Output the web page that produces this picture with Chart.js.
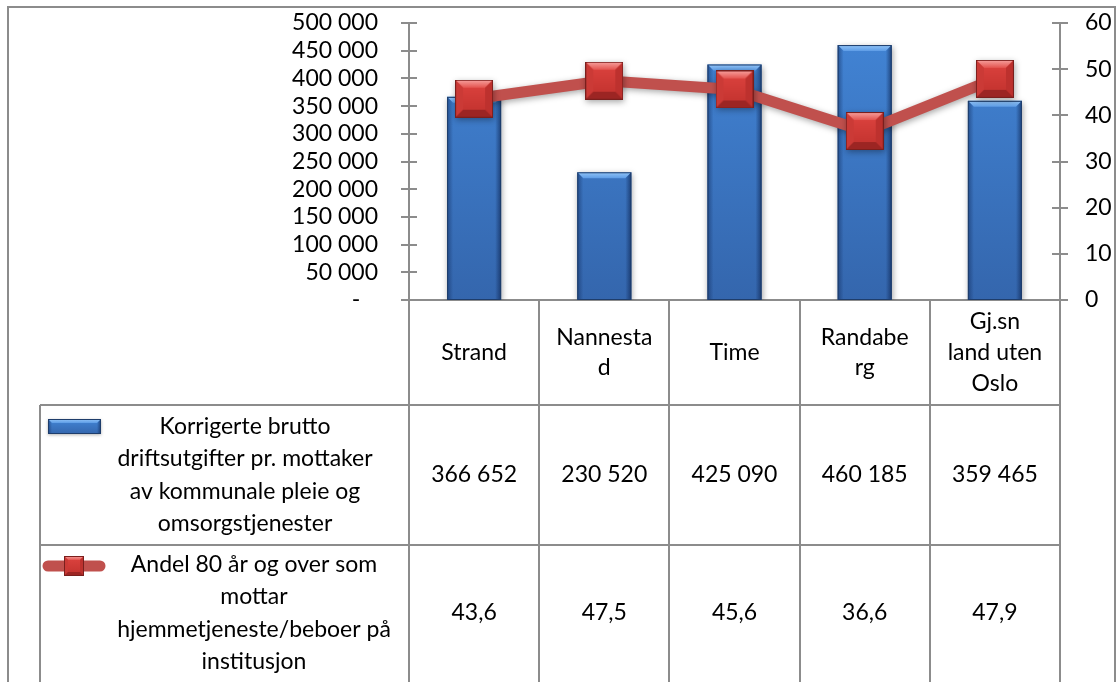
<!DOCTYPE html>
<html>
<head>
<meta charset="utf-8">
<script src="https://cdn.jsdelivr.net/npm/chart.js@4.4.1/dist/chart.umd.min.js"></script>
<style>
html,body{margin:0;padding:0;background:#fff;overflow:hidden}
#wrap{width:1117px;height:682px;position:relative}
</style>
</head>
<body>
<div id="wrap"><canvas id="c" width="1117" height="682"></canvas></div>
<script>
// ---------------- DATA ----------------
const categories = [['Strand'], ['Nannesta', 'd'], ['Time'], ['Randabe', 'rg'], ['Gj.sn', 'land uten', 'Oslo']];
const costLabelLines = ['Korrigerte brutto', 'driftsutgifter pr. mottaker', 'av kommunale pleie og', 'omsorgstjenester'];
const shareLabelLines = ['Andel 80 år og over som', 'mottar', 'hjemmetjeneste/beboer på', 'institusjon'];
const costValues = [366652, 230520, 425090, 460185, 359465];
const shareValues = [43.6, 47.5, 45.6, 36.6, 47.9];
const costAxis = { min: 0, max: 500000, step: 50000 };
const shareAxis = { min: 0, max: 60, step: 10 };

// ---------------- STYLE ----------------
const FONT = 'Lato';
const FS = 23;
const AXIS = '#8C8C8C';
const LINE_RED = '#C0504D';

function fmtThousands(v) { return String(Math.round(v)).replace(/\B(?=(\d{3})+(?!\d))/g, ' '); }
function fmtDecimal(v) { return v.toFixed(1).replace('.', ','); }

function poly(g, pts, fill) {
  g.beginPath();
  g.moveTo(pts[0][0], pts[0][1]);
  for (let i = 1; i < pts.length; i++) g.lineTo(pts[i][0], pts[i][1]);
  g.closePath();
  g.fillStyle = fill;
  g.fill();
}

function makeMarker(size) {
  const c = document.createElement('canvas');
  c.width = size; c.height = size;
  const g = c.getContext('2d');
  const s = size, d = Math.round(size * 0.2);
  let gr = g.createLinearGradient(0, 0, 0, s);
  gr.addColorStop(0, '#DA433E'); gr.addColorStop(1, '#B92E2B');
  g.fillStyle = gr; g.fillRect(0, 0, s, s);
  let tg = g.createLinearGradient(0, 0, 0, d);
  tg.addColorStop(0, '#F7A3A0'); tg.addColorStop(1, '#E4544F');
  poly(g, [[0, 0], [s, 0], [s - d, d], [d, d]], tg);
  poly(g, [[0, 0], [d, d], [d, s - d], [0, s]], '#CB3A36');
  poly(g, [[s, 0], [s, s], [s - d, s - d], [s - d, d]], '#BD312E');
  poly(g, [[0, s], [d, s - d], [s - d, s - d], [s, s]], '#9C2523');
  let cg = g.createLinearGradient(0, d, 0, s - d);
  cg.addColorStop(0, '#D8403C'); cg.addColorStop(1, '#C63531');
  g.fillStyle = cg; g.fillRect(d, d, s - 2 * d, s - 2 * d);
  g.strokeStyle = '#7A1F1D'; g.lineWidth = 1;
  g.strokeRect(0.5, 0.5, s - 1, s - 1);
  return c;
}

function drawBarBevel(ctx, l, t, r, b, d) {
  ctx.save();
  let tg = ctx.createLinearGradient(0, t, 0, t + d);
  tg.addColorStop(0, '#93C5F7'); tg.addColorStop(1, '#5D9CE6');
  poly(ctx, [[l, t], [r, t], [r - d, t + d], [l + d, t + d]], tg);
  let lg = ctx.createLinearGradient(l, 0, l + d, 0);
  lg.addColorStop(0, 'rgba(18,45,95,0.55)'); lg.addColorStop(1, 'rgba(18,45,95,0)');
  poly(ctx, [[l, t], [l + d, t + d], [l + d, b], [l, b]], lg);
  let rg = ctx.createLinearGradient(r - d, 0, r, 0);
  rg.addColorStop(0, 'rgba(12,35,80,0)'); rg.addColorStop(1, 'rgba(12,35,80,0.65)');
  poly(ctx, [[r, t], [r, b], [r - d, b], [r - d, t + d]], rg);
  ctx.strokeStyle = '#1E3D6B'; ctx.lineWidth = 1;
  ctx.strokeRect(l + 0.5, t + 0.5, r - l - 1, b - t - 1);
  ctx.restore();
}

function barFill(ctx, top, bottom) {
  const g = ctx.createLinearGradient(0, top, 0, bottom);
  g.addColorStop(0, '#4285D6'); g.addColorStop(1, '#3466AD');
  return g;
}

const markerImg = makeMarker(38);
const legendMarkerImg = makeMarker(20);

const effectsPlugin = {
  id: 'effects',
  beforeDatasetDraw(chart, args) {
    const ctx = chart.ctx;
    ctx.save();
    ctx.shadowColor = 'rgba(0,0,0,0.35)';
    ctx.shadowBlur = 6;
    ctx.shadowOffsetX = 1;
    ctx.shadowOffsetY = 2;
  },
  afterDatasetDraw(chart, args) {
    const ctx = chart.ctx;
    ctx.restore();
    if (args.meta.type === 'bar') {
      args.meta.data.forEach(el => {
        const p = el.getProps(['x', 'y', 'width', 'base'], true);
        drawBarBevel(ctx, p.x - p.width / 2, p.y, p.x + p.width / 2, p.base, 6);
      });
    }
  }
};

const tablePlugin = {
  id: 'table',
  beforeDraw(chart) {
    const ctx = chart.ctx;
    ctx.save();
    ctx.fillStyle = '#fff';
    ctx.fillRect(0, 0, chart.width, chart.height);
    ctx.strokeStyle = AXIS; ctx.lineWidth = 2;
    ctx.strokeRect(8, 7, 1107, 720);
    ctx.restore();
  },
  afterDraw(chart) {
    const ctx = chart.ctx, xs = chart.scales.x, ca = chart.chartArea;
    const step = xs.getPixelForValue(1) - xs.getPixelForValue(0);
    const headerBottom = 405, row1Bottom = 545, row2Bottom = 685, legendLeft = 40;
    ctx.save();
    // crossing tick marks on both value axes
    ctx.strokeStyle = AXIS; ctx.lineWidth = 2;
    chart.scales.y.ticks.forEach(t => {
      const py = Math.round(chart.scales.y.getPixelForValue(t.value));
      ctx.beginPath(); ctx.moveTo(ca.left - 8, py); ctx.lineTo(ca.left + 8, py); ctx.stroke();
    });
    chart.scales.y1.ticks.forEach(t => {
      const py = Math.round(chart.scales.y1.getPixelForValue(t.value));
      ctx.beginPath(); ctx.moveTo(ca.right - 8, py); ctx.lineTo(ca.right + 8, py); ctx.stroke();
    });
    // table grid
    for (let i = 0; i <= categories.length; i++) {
      const px = Math.round(xs.getPixelForValue(0) - step / 2 + i * step);
      ctx.beginPath(); ctx.moveTo(px, ca.bottom); ctx.lineTo(px, 700); ctx.stroke();
    }
    [headerBottom, row1Bottom].forEach(yy => {
      ctx.beginPath(); ctx.moveTo(legendLeft, yy); ctx.lineTo(ca.right, yy); ctx.stroke();
    });
    ctx.beginPath(); ctx.moveTo(legendLeft, headerBottom); ctx.lineTo(legendLeft, 700); ctx.stroke();

    // cell texts
    ctx.fillStyle = '#000';
    ctx.font = FS + 'px ' + FONT;
    ctx.textAlign = 'center';
    ctx.textBaseline = 'middle';
    const r1c = (headerBottom + row1Bottom) / 2;
    const r2c = (row1Bottom + row2Bottom) / 2 - 2;
    costValues.forEach((v, i) => ctx.fillText(fmtThousands(v), xs.getPixelForValue(i), r1c));
    shareValues.forEach((v, i) => ctx.fillText(fmtDecimal(v), xs.getPixelForValue(i), r2c));

    const lh = 32.5;
    costLabelLines.forEach((s, i) => ctx.fillText(s, 245, r1c + (i - (costLabelLines.length - 1) / 2) * lh));
    shareLabelLines.forEach((s, i) => ctx.fillText(s, 254, r2c + (i - (shareLabelLines.length - 1) / 2) * lh));

    // legend keys
    ctx.save();
    ctx.shadowColor = 'rgba(0,0,0,0.3)'; ctx.shadowBlur = 3; ctx.shadowOffsetY = 1;
    ctx.fillStyle = barFill(ctx, 419, 434);
    ctx.fillRect(48, 419, 53, 15);
    ctx.restore();
    drawBarBevel(ctx, 48, 419, 101, 434, 4);

    ctx.strokeStyle = LINE_RED; ctx.lineWidth = 11; ctx.lineCap = 'round';
    ctx.beginPath(); ctx.moveTo(48, 566); ctx.lineTo(100, 566); ctx.stroke();
    ctx.drawImage(legendMarkerImg, 64, 556);
    ctx.restore();
  }
};

function build() {
  new Chart(document.getElementById('c'), {
    data: {
      labels: categories,
      datasets: [
        {
          type: 'line',
          label: shareLabelLines.join(' '),
          data: shareValues,
          yAxisID: 'y1',
          order: 0,
          borderColor: LINE_RED,
          borderWidth: 11,
          borderJoinStyle: 'round',
          tension: 0,
          fill: false,
          pointStyle: markerImg,
          pointRadius: 19,
          pointHoverRadius: 19,
          pointBorderWidth: 0,
          pointHoverBorderWidth: 0
        },
        {
          type: 'bar',
          label: costLabelLines.join(' '),
          data: costValues,
          yAxisID: 'y',
          order: 1,
          backgroundColor: c => {
            const ca = c.chart.chartArea;
            if (!ca) return '#3D7BCA';
            return barFill(c.chart.ctx, ca.top, ca.bottom);
          },
          borderWidth: 0,
          categoryPercentage: 1,
          barPercentage: 0.415
        }
      ]
    },
    options: {
      responsive: false,
      animation: false,
      devicePixelRatio: 1,
      layout: { autoPadding: false, padding: { top: 23, left: 0, right: 0, bottom: 0 } },
      plugins: { legend: { display: false }, tooltip: { enabled: false } },
      scales: {
        x: {
          position: 'bottom',
          offset: true,
          grid: { display: false, drawTicks: false },
          border: { display: true, color: AXIS, width: 2 },
          ticks: {
            autoSkip: false, maxRotation: 0, minRotation: 0,
            crossAlign: 'center',
            padding: 22,
            color: '#000',
            font: { family: FONT, size: FS, lineHeight: 1.33 }
          },
          afterFit: s => { s.height = 382; }
        },
        y: {
          position: 'left',
          min: costAxis.min, max: costAxis.max,
          grid: { display: false, drawOnChartArea: false, drawTicks: true, tickLength: 31 },
          border: { display: true, color: AXIS, width: 2 },
          ticks: {
            autoSkip: false,
            stepSize: costAxis.step,
            padding: 0,
            color: '#000',
            font: { family: FONT, size: FS },
            callback: v => v === 0 ? '-   ' : fmtThousands(v)
          },
          afterFit: s => { s.width = 409; }
        },
        y1: {
          position: 'right',
          min: shareAxis.min, max: shareAxis.max,
          grid: { display: false, drawOnChartArea: false, drawTicks: true, tickLength: 25 },
          border: { display: true, color: AXIS, width: 2 },
          ticks: {
            autoSkip: false,
            stepSize: shareAxis.step,
            padding: 0,
            color: '#000',
            font: { family: FONT, size: FS }
          },
          afterFit: s => { s.width = 57; }
        }
      }
    },
    plugins: [effectsPlugin, tablePlugin]
  });
}

if (document.fonts && document.fonts.load) {
  document.fonts.load(FS + 'px ' + FONT).then(build, build);
} else {
  build();
}
</script>
</body>
</html>
